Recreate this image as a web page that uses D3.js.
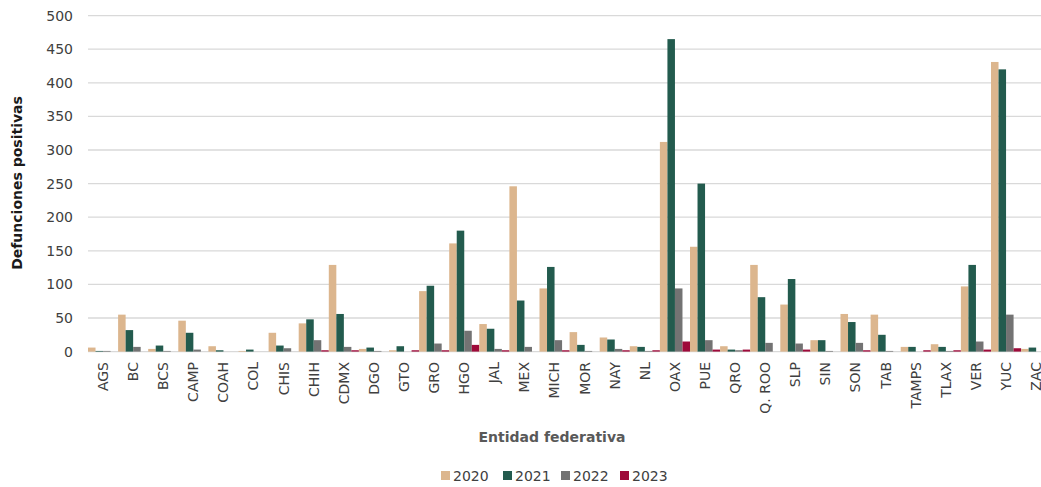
<!DOCTYPE html>
<html><head><meta charset="utf-8">
<script src="https://cdn.jsdelivr.net/npm/d3@7"></script>
<style>
body{margin:0;background:#fff;overflow:hidden}
text{font-family:"DejaVu Sans",sans-serif}
</style></head>
<body><svg id="c" width="1041" height="487"></svg>
<script>
const categories=["AGS","BC","BCS","CAMP","COAH","COL","CHIS","CHIH","CDMX","DGO","GTO","GRO","HGO","JAL","MEX","MICH","MOR","NAY","NL","OAX","PUE","QRO","Q. ROO","SLP","SIN","SON","TAB","TAMPS","TLAX","VER","YUC","ZAC"];
const seriesNames=["2020","2021","2022","2023"];
const v2020=[6,55,4,46,8,1,28,42,129,4,2,90,161,41,246,94,29,21,8,312,156,8,129,70,17,56,55,7,11,97,431,4];
const v2021=[1,32,9,28,2,3,9,48,56,6,8,98,180,34,76,126,10,18,7,465,250,3,81,108,17,44,25,7,7,129,420,6];
const v2022=[1,7,1,3,0,0,5,17,7,1,0,12,31,4,7,17,1,4,1,94,17,2,13,12,1,13,1,0,1,15,55,0];
const v2023=[0,0,0,0,0,0,0,2,2,0,2,2,10,2,0,2,0,2,2,15,3,3,0,3,0,2,0,2,2,3,5,0];
const yTicks=[0,50,100,150,200,250,300,350,400,450,500];
const colors=["#dcb68e","#235b4e","#737373","#9e0a3a"];

const series=[v2020,v2021,v2022,v2023];
const svg=d3.select("#c");
const x0=d3.scaleBand().domain(categories).range([88,88+32*30.1]).paddingInner(0).paddingOuter(0);
const x1=d3.scaleBand().domain(seriesNames).range([0,x0.bandwidth()]).padding(0);
const y=d3.scaleLinear().domain([0,500]).range([351.6,15.6]);

// gridlines
svg.append("g").selectAll("line").data(yTicks).join("line")
 .attr("x1",88).attr("x2",1041).attr("y1",d=>y(d)).attr("y2",d=>y(d))
 .attr("stroke","#d9d9d9").attr("stroke-width",1.3);

// y labels
svg.append("g").selectAll("text").data(yTicks).join("text")
 .attr("x",73).attr("y",d=>y(d)).attr("dy","0.35em").attr("text-anchor","end")
 .attr("font-size",14).attr("fill","#404040").text(d=>d);

// bars
const g=svg.append("g");
categories.forEach((c,i)=>{
  series.forEach((s,j)=>{
    g.append("rect").attr("x",x0(c)+x1(seriesNames[j])).attr("width",x1.bandwidth())
     .attr("y",y(s[i])).attr("height",y(0)-y(s[i])).attr("fill",colors[j]);
  });
});

// x labels
svg.append("g").selectAll("text").data(categories).join("text")
 .attr("transform",d=>`translate(${x0(d)+x0.bandwidth()/2},362) rotate(-90)`)
 .attr("text-anchor","end").attr("dy","0.35em").attr("font-size",14).attr("fill","#404040").text(d=>d);

// axis titles
svg.append("text").attr("transform","translate(17,183) rotate(-90)").attr("text-anchor","middle")
 .attr("dy","0.35em").attr("font-size",14).attr("font-weight","bold").attr("fill","#1a1a1a").text("Defunciones positivas");
svg.append("text").attr("x",552).attr("y",437).attr("text-anchor","middle").attr("dy","0.35em")
 .attr("font-size",14).attr("font-weight","bold").attr("fill","#595959").text("Entidad federativa");

// legend
const lx=[441,503,561,620];
const lg=svg.append("g");
seriesNames.forEach((n,j)=>{
  lg.append("rect").attr("x",lx[j]).attr("y",471).attr("width",9).attr("height",9).attr("fill",colors[j]);
  lg.append("text").attr("x",lx[j]+12).attr("y",476).attr("dy","0.35em").attr("font-size",14).attr("fill","#404040").text(n);
});
</script></body></html>
